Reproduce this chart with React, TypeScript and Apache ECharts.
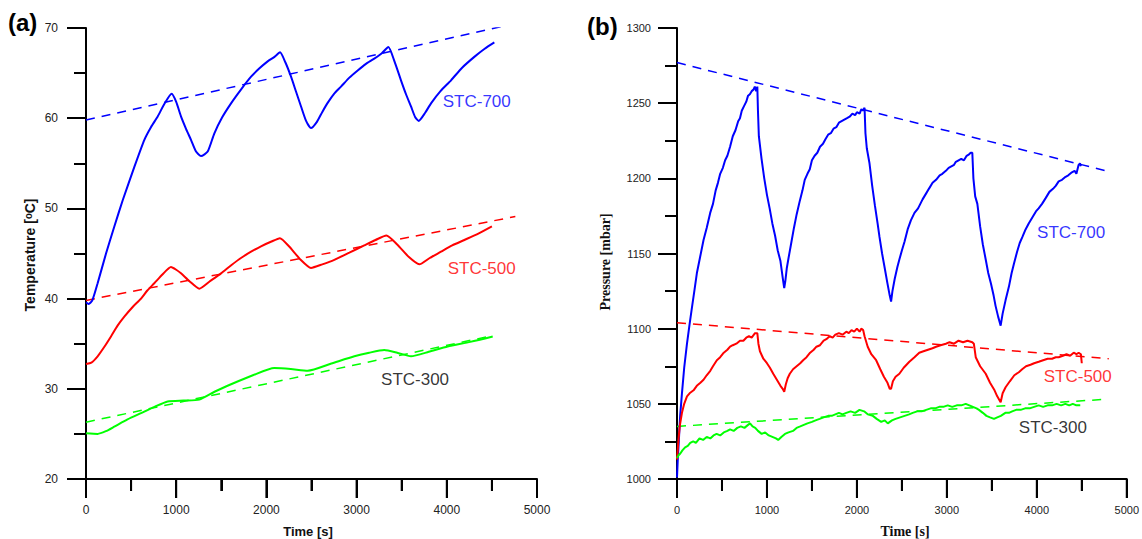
import React, { useEffect, useRef } from "react";
import * as echarts from "echarts";

// ---------- Panel (a): Temperature ----------
const tempSTC700: [number, number][] = [
  [0, 39.6], [30, 39.4], [70, 39.8], [129, 41.7], [222, 45.0], [314, 48.0], [407, 50.9], [536, 54.6],
  [647, 57.6], [720, 59.0], [795, 60.2], [870, 61.6], [950, 62.7], [1000, 61.8], [1053, 60.2],
  [1110, 58.8], [1164, 57.6], [1220, 56.3], [1275, 55.8], [1349, 56.3], [1422, 58.3], [1510, 60.1],
  [1608, 61.65], [1720, 63.2], [1830, 64.6], [1920, 65.5], [2014, 66.3], [2090, 66.8], [2151, 67.3],
  [2210, 66.2], [2273, 64.6], [2330, 62.9], [2384, 61.3], [2440, 59.7], [2494, 58.9], [2560, 59.6],
  [2620, 60.7], [2679, 61.7], [2750, 62.7], [2827, 63.5], [2920, 64.5], [3012, 65.3], [3100, 66.0],
  [3196, 66.6], [3280, 67.2], [3352, 67.9], [3420, 66.3], [3492, 64.2], [3550, 62.6], [3603, 61.3],
  [3650, 60.1], [3688, 59.7], [3760, 60.6], [3825, 61.65], [3930, 63.0], [4047, 64.2], [4170, 65.6],
  [4305, 66.8], [4420, 67.7], [4527, 68.4],
];
const tempSTC500: [number, number][] = [
  [0, 32.75], [60, 32.9], [129, 33.6], [200, 34.6], [277, 35.8], [350, 37.0], [425, 38.0], [520, 39.1],
  [610, 40.0], [680, 40.9], [757, 41.7], [850, 42.7], [942, 43.5], [1000, 43.2], [1053, 42.8],
  [1150, 41.9], [1256, 41.1], [1370, 41.9], [1497, 42.8], [1610, 43.7], [1718, 44.5], [1830, 45.2],
  [1940, 45.8], [2050, 46.3], [2150, 46.7], [2250, 45.8], [2380, 44.3], [2494, 43.4], [2620, 43.8],
  [2753, 44.3], [2920, 45.1], [3085, 45.9], [3210, 46.5], [3330, 47.0], [3450, 46.0], [3580, 44.6],
  [3695, 43.8], [3810, 44.5], [3936, 45.2], [4060, 45.9], [4195, 46.5], [4350, 47.2], [4500, 48.0],
];
const tempSTC300: [number, number][] = [
  [0, 25.07], [129, 25.0], [220, 25.3], [314, 25.8], [460, 26.6], [610, 27.3], [760, 28.0], [905, 28.6],
  [1080, 28.7], [1256, 28.8], [1430, 29.7], [1608, 30.5], [1850, 31.5], [2088, 32.3], [2270, 32.2],
  [2458, 32.0], [2720, 32.8], [2975, 33.6], [3140, 34.0], [3307, 34.3], [3450, 34.0], [3603, 33.6],
  [3800, 34.1], [4010, 34.7], [4260, 35.2], [4509, 35.8],
];
const tempTrend700: [number, number][] = [[0, 59.8], [4710, 70.4]];
const tempTrend500: [number, number][] = [[0, 39.8], [4760, 49.1]];
const tempTrend300: [number, number][] = [[0, 26.3], [4510, 35.9]];

// ---------- Panel (b): Pressure ----------
const presSTC700: [number, number][] = [
  [0, 1001], [10, 1015], [20, 1025], [35, 1042], [55, 1057], [80, 1074], [111, 1090], [140, 1103],
  [166, 1114], [195, 1126], [221, 1137], [258, 1148], [295, 1159], [330, 1167], [369, 1177], [400, 1183],
  [430, 1192], [455, 1197], [480, 1203], [510, 1207], [535, 1212], [560, 1215], [590, 1221], [620, 1228],
  [650, 1232], [680, 1238], [700, 1240], [720, 1245], [745, 1248], [770, 1251], [790, 1255], [810, 1256],
  [830, 1258], [850, 1259], [865, 1261], [880, 1258], [893, 1261], [900, 1245], [910, 1228], [940, 1213],
  [970, 1200], [1000, 1189], [1030, 1180], [1060, 1170], [1090, 1162], [1120, 1152], [1150, 1145],
  [1175, 1134], [1192, 1127], [1205, 1132], [1220, 1140], [1240, 1147], [1270, 1157], [1300, 1167],
  [1330, 1176], [1365, 1185], [1395, 1192], [1420, 1199], [1450, 1203], [1476, 1206], [1500, 1212],
  [1530, 1215], [1560, 1217], [1590, 1221], [1623, 1223], [1650, 1226], [1680, 1229], [1710, 1230],
  [1740, 1233], [1771, 1234], [1800, 1237], [1830, 1238], [1860, 1239], [1890, 1240], [1919, 1241],
  [1950, 1243], [1980, 1242], [2000, 1244], [2030, 1243], [2050, 1246], [2066, 1245], [2085, 1247],
  [2095, 1230], [2110, 1220], [2140, 1210], [2170, 1195], [2200, 1182], [2230, 1170], [2251, 1161],
  [2280, 1150], [2310, 1140], [2340, 1130], [2365, 1122], [2380, 1118], [2395, 1125], [2420, 1133],
  [2450, 1141], [2472, 1146], [2500, 1152], [2530, 1158], [2564, 1166], [2600, 1172], [2640, 1177],
  [2680, 1180], [2730, 1186], [2770, 1190], [2800, 1193], [2841, 1197], [2880, 1199], [2920, 1202],
  [2950, 1203], [2989, 1205], [3020, 1207], [3050, 1208], [3080, 1209], [3100, 1211], [3130, 1212],
  [3160, 1213], [3190, 1212], [3220, 1215], [3247, 1216], [3265, 1217], [3283, 1217], [3295, 1200],
  [3315, 1188], [3339, 1183], [3370, 1168], [3400, 1156], [3432, 1146], [3460, 1137], [3490, 1130],
  [3520, 1122], [3542, 1115], [3570, 1108], [3598, 1102], [3620, 1110], [3653, 1119], [3690, 1128],
  [3720, 1137], [3745, 1143], [3780, 1151], [3810, 1157], [3840, 1161], [3875, 1166], [3910, 1170],
  [3950, 1174], [3990, 1178], [4020, 1180], [4058, 1183], [4100, 1187], [4140, 1191], [4180, 1193],
  [4210, 1195], [4243, 1198], [4280, 1199], [4320, 1201], [4350, 1202], [4390, 1204], [4420, 1205],
  [4440, 1203], [4465, 1209], [4480, 1210], [4490, 1208],
];
const presSTC500: [number, number][] = [
  [0, 1013], [15, 1025], [30, 1035], [55, 1044], [80, 1050], [111, 1055], [140, 1057], [184, 1059],
  [220, 1062], [260, 1064], [295, 1066], [330, 1069], [370, 1072], [400, 1075], [443, 1079], [480, 1081],
  [520, 1084], [560, 1086], [590, 1088], [620, 1089], [660, 1090], [700, 1092], [738, 1092], [770, 1094],
  [800, 1095], [830, 1094], [867, 1097], [893, 1097], [905, 1090], [922, 1085], [960, 1080], [1000, 1077],
  [1033, 1074], [1070, 1070], [1110, 1066], [1150, 1062], [1175, 1060], [1192, 1058], [1210, 1063],
  [1230, 1067], [1254, 1070], [1290, 1073], [1330, 1075], [1370, 1077], [1402, 1079], [1440, 1081],
  [1480, 1084], [1520, 1086], [1550, 1088], [1590, 1089], [1630, 1092], [1660, 1093], [1697, 1095],
  [1730, 1094], [1760, 1096], [1800, 1097], [1840, 1096], [1882, 1098], [1910, 1097], [1940, 1099],
  [1970, 1098], [2000, 1100], [2030, 1098], [2048, 1100], [2070, 1099], [2085, 1095], [2120, 1088],
  [2160, 1083], [2214, 1079], [2260, 1073], [2300, 1068], [2340, 1064], [2365, 1060], [2380, 1060],
  [2400, 1065], [2430, 1068], [2472, 1070], [2520, 1074], [2583, 1078], [2640, 1081], [2693, 1084],
  [2740, 1085], [2790, 1086], [2840, 1087], [2880, 1088], [2930, 1089], [2989, 1090], [3030, 1091],
  [3080, 1090], [3130, 1092], [3180, 1091], [3230, 1092], [3283, 1091], [3300, 1090], [3321, 1081],
  [3370, 1075], [3432, 1070], [3480, 1064], [3530, 1059], [3560, 1055], [3598, 1051], [3620, 1057],
  [3653, 1061], [3700, 1065], [3750, 1069], [3800, 1071], [3837, 1073], [3880, 1075], [3930, 1076],
  [3970, 1077], [4021, 1078], [4070, 1079], [4120, 1080], [4170, 1080], [4210, 1081], [4243, 1081],
  [4290, 1082], [4330, 1083], [4370, 1082], [4410, 1084], [4440, 1083], [4465, 1084], [4490, 1083],
  [4500, 1077],
];
const presSTC300: [number, number][] = [
  [0, 1014], [20, 1016], [37, 1017], [60, 1019], [90, 1021], [120, 1022], [147, 1024], [180, 1025],
  [210, 1024], [250, 1027], [290, 1026], [330, 1028], [370, 1027], [406, 1029], [440, 1030], [480, 1029],
  [520, 1031], [560, 1032], [590, 1033], [630, 1032], [670, 1034], [710, 1035], [750, 1034], [790, 1036],
  [812, 1037], [840, 1035], [870, 1034], [900, 1032], [941, 1030], [980, 1031], [1020, 1029], [1060, 1028],
  [1100, 1027], [1125, 1026], [1160, 1028], [1200, 1030], [1240, 1031], [1290, 1032], [1329, 1034],
  [1370, 1035], [1410, 1036], [1450, 1037], [1500, 1038], [1540, 1039], [1586, 1040], [1630, 1041],
  [1680, 1042], [1720, 1042], [1760, 1043], [1800, 1044], [1840, 1043], [1882, 1044], [1930, 1045],
  [1980, 1044], [2029, 1046], [2080, 1045], [2120, 1043], [2177, 1042], [2220, 1040], [2270, 1038],
  [2310, 1039], [2343, 1037], [2390, 1039], [2430, 1040], [2480, 1041], [2530, 1042], [2580, 1043],
  [2620, 1044], [2670, 1045], [2720, 1045], [2770, 1046], [2820, 1047], [2870, 1047], [2915, 1048],
  [2960, 1048], [3010, 1049], [3060, 1048], [3110, 1049], [3160, 1049], [3210, 1050], [3250, 1049],
  [3290, 1048], [3330, 1047], [3357, 1046], [3400, 1044], [3440, 1042], [3480, 1041], [3524, 1040],
  [3560, 1041], [3600, 1042], [3650, 1044], [3690, 1044], [3726, 1045], [3770, 1046], [3820, 1046],
  [3870, 1047], [3920, 1047], [3970, 1048], [4021, 1049], [4070, 1048], [4120, 1049], [4170, 1049],
  [4220, 1050], [4270, 1049], [4317, 1050], [4360, 1049], [4400, 1050], [4440, 1049], [4483, 1049],
];
const presTrend700: [number, number][] = [[0, 1277], [4800, 1204.5]];
const presTrend500: [number, number][] = [[0, 1104], [4800, 1080]];
const presTrend300: [number, number][] = [[0, 1035], [4760, 1053]];

// ---------- Axes ----------
const xRange: [number, number] = [0, 5000];
const yRangeA: [number, number] = [20, 70];
const yRangeB: [number, number] = [1000, 1300];
const xMajorTicks = [0, 1000, 2000, 3000, 4000, 5000];
const xMinorTicks = [500, 1500, 2500, 3500, 4500];
const yMajorTicksA = [20, 30, 40, 50, 60, 70];
const yMinorTicksA = [25, 35, 45, 55, 65];
const yMajorTicksB = [1000, 1050, 1100, 1150, 1200, 1250, 1300];
const yMinorTicksB = [1025, 1075, 1125, 1175, 1225, 1275];

// ---------- Labels ----------
const seriesNames = ["STC-700", "STC-500", "STC-300"];
const tempLabelPos: [number, number][] = [[3955, 61.8], [4010, 43.3], [3271, 31.0]];
const presLabelPos: [number, number][] = [[4003, 1164], [4077, 1068], [3800, 1034]];
const seriesColors = ["#0000ff", "#ff0000", "#00ff00"];
const labelColors = ["#0000ff", "#ff0000", "#000000"];
const xTitle = "Time [s]";
const yTitleA = "Temperature [\u1D52C]";
const yTitleB = "Pressure [mbar]";

const BLACK = "#000";
const plain = (v: number) => String(v);
const PLOT_W = 451;
const PLOT_H = 451;
const MAJOR_PX = 19;
const MINOR_PX = 12;

const axisBase = {
  axisLine: { show: true, lineStyle: { color: BLACK, width: 2 } },
  axisTick: { show: true, length: MAJOR_PX, lineStyle: { color: BLACK, width: 2 } },
  minorTick: { show: true, splitNumber: 2, length: MINOR_PX, lineStyle: { color: BLACK, width: 2 } },
  splitLine: { show: true, lineStyle: { color: "rgba(0,0,0,0)" } },
};

export default function App() {
  const ref = useRef<HTMLDivElement>(null);
  useEffect(() => {
    if (!ref.current) return;
    const chart = echarts.init(ref.current, null, { renderer: "svg" });

    const lineSeries = (data: [number, number][], color: string, idx: number) => ({
      type: "line",
      xAxisIndex: idx,
      yAxisIndex: idx,
      data,
      showSymbol: false,
      smooth: idx === 0 ? 0.2 : false,
      lineStyle: { color, width: 2 },
    });
    const trendSeries = (data: [number, number][], color: string, idx: number) => ({
      type: "line",
      xAxisIndex: idx,
      yAxisIndex: idx,
      data,
      showSymbol: false,
      lineStyle: { color, width: 1.5, type: [9, 7] },
    });
    const labelSeries = (pos: [number, number][], idx: number) => ({
      type: "scatter",
      xAxisIndex: idx,
      yAxisIndex: idx,
      symbolSize: 0,
      data: pos.map((p, i) => ({
        value: p,
        label: {
          show: true,
          position: "right",
          distance: 0,
          formatter: seriesNames[i],
          color: labelColors[i],
          fontFamily: "Liberation Sans",
          fontSize: 17,
        },
      })),
    });
    // axis frame and ticks as black line series on the same scales
    const frameSeries = (idx: number, xr: [number, number], yr: [number, number],
      yMaj: number[], yMin: number[]) => {
      const dxMaj = (MAJOR_PX / PLOT_W) * (xr[1] - xr[0]);
      const dxMin = (MINOR_PX / PLOT_W) * (xr[1] - xr[0]);
      const dyMaj = (MAJOR_PX / PLOT_H) * (yr[1] - yr[0]);
      const dyMin = (MINOR_PX / PLOT_H) * (yr[1] - yr[0]);
      const pts: any[] = [[xr[0], yr[1]], [xr[0], yr[0]], [xr[1], yr[0]], [xr[1], "-"]];
      xMajorTicks.forEach((v) => pts.push([v, yr[0]], [v, yr[0] - dyMaj], [v, "-"]));
      xMinorTicks.forEach((v) => pts.push([v, yr[0]], [v, yr[0] - dyMin], [v, "-"]));
      yMaj.forEach((v) => pts.push([xr[0], v], [xr[0] - dxMaj, v], ["-", v]));
      yMin.forEach((v) => pts.push([xr[0], v], [xr[0] - dxMin, v], ["-", v]));
      return {
        type: "line",
        xAxisIndex: idx,
        yAxisIndex: idx,
        data: pts,
        showSymbol: false,
        connectNulls: false,
        clip: false,
        silent: true,
        z: 1,
        lineStyle: { color: BLACK, width: 2, cap: "butt" },
      };
    };

    chart.setOption({
      animation: false,
      grid: [
        { left: 86, top: 28, width: PLOT_W, height: PLOT_H },
        { left: 677, top: 28, width: PLOT_W, height: PLOT_H },
      ],
      xAxis: [
        {
          type: "value", gridIndex: 0, min: xRange[0], max: xRange[1], ...axisBase,
          axisLabel: { margin: 25, formatter: plain, fontFamily: "Liberation Sans", fontSize: 12, color: "#222" },
        },
        {
          type: "value", gridIndex: 1, min: xRange[0], max: xRange[1], ...axisBase,
          axisLabel: { margin: 25, formatter: plain, fontFamily: "Liberation Sans", fontSize: 11, color: "#222" },
        },
      ],
      yAxis: [
        {
          type: "value", gridIndex: 0, min: yRangeA[0], max: yRangeA[1], ...axisBase,
          axisLabel: { margin: 28, formatter: plain, fontFamily: "Liberation Sans", fontSize: 12, color: "#222" },
        },
        {
          type: "value", gridIndex: 1, min: yRangeB[0], max: yRangeB[1], ...axisBase,
          axisLabel: { margin: 26, formatter: plain, fontFamily: "Liberation Sans", fontSize: 11, color: "#222" },
        },
      ],
      graphic: [
        {
          type: "text", left: 8, top: 10,
          style: { text: "(a)", fontFamily: "Liberation Sans", fontWeight: "bold", fontSize: 24, fill: "#000" },
        },
        {
          type: "text", left: 587, top: 14,
          style: { text: "(b)", fontFamily: "Liberation Sans", fontWeight: "bold", fontSize: 24, fill: "#000" },
        },
        {
          type: "text", x: 308, y: 531,
          style: {
            text: xTitle, fontFamily: "Liberation Sans", fontWeight: "bold", fontSize: 13, fill: "#111",
            align: "center", verticalAlign: "middle",
          },
        },
        {
          type: "text", x: 905, y: 531,
          style: {
            text: xTitle, fontFamily: "Liberation Serif", fontWeight: "bold", fontSize: 14, fill: "#111",
            align: "center", verticalAlign: "middle",
          },
        },
        {
          type: "text", x: 30, y: 255, rotation: Math.PI / 2,
          style: {
            text: yTitleA, fontFamily: "Liberation Sans, DejaVu Sans", fontWeight: "bold", fontSize: 14,
            fill: "#111", align: "center", verticalAlign: "middle",
          },
        },
        {
          type: "text", x: 605, y: 262, rotation: Math.PI / 2,
          style: {
            text: yTitleB, fontFamily: "Liberation Serif", fontWeight: "bold", fontSize: 14, fill: "#111",
            align: "center", verticalAlign: "middle",
          },
        },
      ],
      series: [
        frameSeries(0, xRange, yRangeA, yMajorTicksA, yMinorTicksA),
        trendSeries(tempTrend700, seriesColors[0], 0),
        trendSeries(tempTrend500, seriesColors[1], 0),
        trendSeries(tempTrend300, seriesColors[2], 0),
        lineSeries(tempSTC700, seriesColors[0], 0),
        lineSeries(tempSTC500, seriesColors[1], 0),
        lineSeries(tempSTC300, seriesColors[2], 0),
        labelSeries(tempLabelPos, 0),
        frameSeries(1, xRange, yRangeB, yMajorTicksB, yMinorTicksB),
        trendSeries(presTrend700, seriesColors[0], 1),
        trendSeries(presTrend500, seriesColors[1], 1),
        trendSeries(presTrend300, seriesColors[2], 1),
        lineSeries(presSTC700, seriesColors[0], 1),
        lineSeries(presSTC500, seriesColors[1], 1),
        lineSeries(presSTC300, seriesColors[2], 1),
        labelSeries(presLabelPos, 1),
      ],
    });
    return () => chart.dispose();
  }, []);
  return (
    <div
      ref={ref}
      style={{ position: "fixed", left: 0, top: 0, width: 1142, height: 539, background: "#fff" }}
    />
  );
}
